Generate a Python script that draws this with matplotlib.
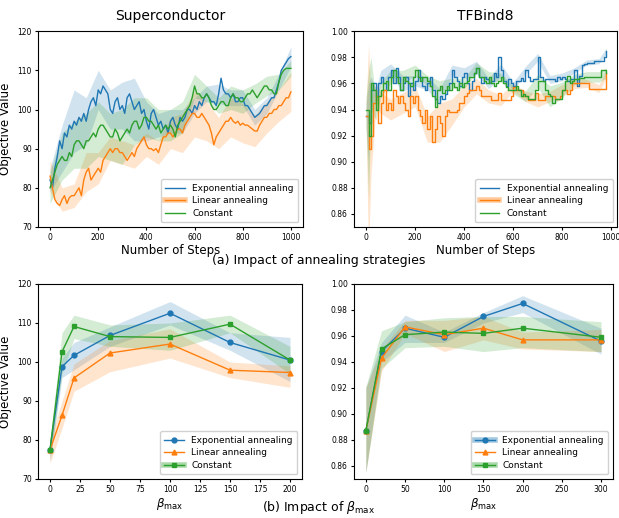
import numpy as np
import matplotlib
matplotlib.use("Agg")
import matplotlib.pyplot as plt
from matplotlib.lines import Line2D

# ---- (a) annealing strategies: mean value every 10 steps ----
sc_exp = [82, 80, 85, 88, 92, 90, 94, 93, 96, 95,
          97, 96, 98, 97, 99, 97, 100, 102, 103, 101,
          105, 104, 106, 105, 104, 100, 99, 102, 103, 100,
          101, 99, 103, 104, 102, 100, 101, 102, 99, 100,
          97, 95, 99, 100, 98, 96, 97, 95, 96, 94,
          97, 98, 96, 95, 98, 97, 98, 100, 100, 99,
          101, 100, 102, 101, 103, 104, 103, 102, 102, 101,
          104, 108, 105, 104, 104, 103, 104, 102, 102, 103,
          103, 101, 101, 100, 99, 98, 98.5, 99, 100, 101,
          101, 102, 103, 103, 105, 107, 110, 111, 112, 113, 113.5]
sc_lin = [83, 80, 77, 76, 75.5, 77, 78, 76, 77.5, 78,
          78, 79, 80, 78, 82, 84, 85, 82, 83, 84,
          85, 84, 87, 88, 89, 90, 89, 90, 90, 89,
          89, 88, 87, 88, 89, 88, 90, 91, 92, 93,
          91, 90, 90, 89.5, 90, 89, 91, 93, 93, 94,
          94, 93, 94, 95, 95, 94, 96, 97, 98, 99,
          99, 98, 98, 99, 98, 97, 96, 94, 91, 93,
          94, 95, 96, 97, 97, 98, 97, 96.5, 97, 96,
          96.5, 96, 96, 95.5, 95, 94.5, 94.5, 96, 97, 98,
          98, 99, 99, 100, 100, 101, 101, 102, 103, 103, 104.5]
sc_con = [80, 82, 84, 86, 87, 88, 87, 87, 89, 88,
          91, 92, 92, 91, 90, 92, 92, 93, 94, 93,
          95, 96, 96, 95, 94, 93, 93, 95, 94, 92,
          93, 94, 95, 94, 96, 97, 97, 95, 96, 98,
          98, 97, 97, 96, 95, 96, 94, 95, 96, 95,
          96, 95, 93, 96, 97, 98, 99, 100, 101, 103,
          106, 104, 104, 103, 103, 104, 103, 101, 100, 100,
          101, 102, 102, 101, 101, 103, 104, 103, 103, 102,
          102, 103, 104, 104, 105, 104, 103, 104, 105, 106,
          106, 105, 105, 104, 104, 107, 109, 110, 110.5, 110.5, 110.5]
# band half-width every 50 steps
sc_band_x = [0, 50, 100, 150, 200, 250, 300, 350, 400, 450, 500,
             550, 600, 650, 700, 750, 800, 850, 900, 950, 1000]
sc_exp_hw = [3, 6, 8, 6, 5, 5, 6, 8, 5, 3, 3, 3, 2, 2, 2.5, 2, 2, 2, 2, 2, 2.5]
sc_lin_hw = [4, 3, 3, 5, 4, 3, 3, 3, 3, 3, 4, 5, 6, 5, 4, 5, 5, 4, 4, 4, 5]
sc_con_hw = [4, 6, 6, 7, 7, 6, 7, 6, 5, 4, 4, 4, 3, 2, 2, 3, 3, 2.5, 2.5, 2, 2]

tf_exp = [0.935, 0.93, 0.955, 0.96, 0.95, 0.96, 0.965, 0.96, 0.955, 0.965,
          0.97, 0.96, 0.972, 0.965, 0.955, 0.96, 0.965, 0.95, 0.96, 0.955,
          0.962, 0.97, 0.965, 0.958, 0.955, 0.96, 0.965, 0.955, 0.948, 0.945,
          0.95, 0.948, 0.952, 0.955, 0.96, 0.97, 0.965, 0.962, 0.958, 0.965,
          0.968, 0.96, 0.955, 0.962, 0.968, 0.972, 0.965, 0.96, 0.965, 0.963,
          0.96, 0.962, 0.968, 0.965, 0.98, 0.97, 0.962, 0.958, 0.963, 0.96,
          0.958, 0.962, 0.962, 0.964, 0.962, 0.97, 0.965, 0.962, 0.963, 0.963,
          0.98, 0.965, 0.962, 0.963, 0.963, 0.963, 0.963, 0.962, 0.965, 0.963,
          0.965, 0.963, 0.962, 0.963, 0.963, 0.97, 0.958, 0.966, 0.974, 0.975,
          0.976, 0.976, 0.976, 0.977, 0.977, 0.977, 0.977, 0.98, 0.985]
tf_lin = [0.935, 0.91, 0.92, 0.945, 0.95, 0.93, 0.945, 0.955, 0.94, 0.945,
          0.94, 0.955, 0.95, 0.945, 0.95, 0.945, 0.94, 0.935, 0.95, 0.945,
          0.95, 0.94, 0.935, 0.93, 0.94, 0.925, 0.935, 0.915, 0.925, 0.935,
          0.93, 0.92, 0.935, 0.94, 0.938, 0.938, 0.938, 0.94, 0.945, 0.945,
          0.95, 0.953, 0.955, 0.955, 0.955, 0.958, 0.955, 0.95, 0.95, 0.95,
          0.95, 0.947, 0.947, 0.947, 0.953, 0.947, 0.947, 0.947, 0.947, 0.95,
          0.957, 0.955, 0.955, 0.955, 0.95, 0.95, 0.947, 0.947, 0.947, 0.953,
          0.947, 0.947, 0.947, 0.95, 0.95, 0.95, 0.95, 0.948, 0.948, 0.95,
          0.955, 0.955, 0.952, 0.955, 0.96, 0.96, 0.96, 0.96, 0.96, 0.96,
          0.96, 0.956, 0.956, 0.956, 0.956, 0.956, 0.956, 0.956, 0.968]
tf_con = [0.94, 0.92, 0.96, 0.955, 0.94, 0.95, 0.955, 0.96, 0.962, 0.955,
          0.965, 0.97, 0.965, 0.96, 0.955, 0.965, 0.962, 0.96, 0.958, 0.965,
          0.97, 0.965, 0.962, 0.965, 0.965, 0.962, 0.958, 0.95, 0.942, 0.955,
          0.958, 0.953, 0.955, 0.958, 0.955, 0.96, 0.957, 0.955, 0.96, 0.957,
          0.96, 0.962, 0.965, 0.965, 0.968, 0.972, 0.965, 0.965, 0.962, 0.96,
          0.965, 0.96, 0.958, 0.96, 0.962, 0.965, 0.96, 0.957, 0.955, 0.955,
          0.955, 0.958, 0.955, 0.95, 0.952, 0.95, 0.948, 0.948, 0.948, 0.955,
          0.962, 0.962, 0.962, 0.955, 0.952, 0.95, 0.945, 0.948, 0.948, 0.948,
          0.955, 0.962, 0.966, 0.96, 0.962, 0.963, 0.963, 0.964, 0.964, 0.965,
          0.965, 0.965, 0.965, 0.965, 0.965, 0.965, 0.97, 0.97, 0.968]
tf_band_x = [0, 10, 20, 40, 60, 100, 150, 200, 250, 300, 350, 400,
             450, 500, 550, 600, 650, 700, 750, 800, 850, 900, 950, 980]
tf_exp_hw = [0.01, 0.03, 0.01, 0.006, 0.005, 0.005, 0.006, 0.004, 0.005, 0.006, 0.004, 0.004,
             0.005, 0.004, 0.005, 0.003, 0.003, 0.003, 0.003, 0.003, 0.002, 0.002, 0.002, 0.002]
tf_lin_hw = [0.01, 0.08, 0.03, 0.01, 0.008, 0.008, 0.008, 0.008, 0.01, 0.015, 0.01, 0.008,
             0.006, 0.005, 0.004, 0.003, 0.004, 0.005, 0.004, 0.004, 0.004, 0.003, 0.003, 0.003]
tf_con_hw = [0.01, 0.05, 0.02, 0.008, 0.006, 0.005, 0.005, 0.004, 0.004, 0.004, 0.004, 0.004,
             0.004, 0.004, 0.003, 0.003, 0.004, 0.005, 0.008, 0.006, 0.004, 0.004, 0.004, 0.004]

# ---- (b) beta_max ----
sc_beta = [0, 10, 20, 50, 100, 150, 200]
sc_b_exp = [77.5, 98.8, 101.7, 106.8, 112.5, 105.0, 100.5]
sc_b_exp_lo = [74.5, 96, 98, 104, 109.5, 103, 95]
sc_b_exp_hi = [80.5, 101, 105, 109, 115.5, 107.5, 106.3]
sc_b_lin = [77.5, 86.3, 95.9, 102.3, 104.6, 97.9, 97.3]
sc_b_lin_lo = [74, 83, 92.5, 97.5, 101, 96, 93.5]
sc_b_lin_hi = [80, 90, 99.5, 105.5, 108.5, 100, 99]
sc_b_con = [77.5, 102.6, 109.1, 106.5, 106.3, 109.7, 100.5]
sc_b_con_lo = [75, 97, 106, 104, 103, 107.5, 97]
sc_b_con_hi = [80, 107.5, 112, 109.5, 110, 112, 104]

tf_beta = [0, 20, 50, 100, 150, 200, 300]
tf_b_exp = [0.887, 0.948, 0.966, 0.959, 0.975, 0.985, 0.956]
tf_b_exp_lo = [0.855, 0.940, 0.955, 0.955, 0.970, 0.978, 0.946]
tf_b_exp_hi = [0.920, 0.955, 0.976, 0.963, 0.978, 0.991, 0.966]
tf_b_lin = [0.887, 0.943, 0.967, 0.961, 0.966, 0.957, 0.957]
tf_b_lin_lo = [0.855, 0.933, 0.962, 0.948, 0.957, 0.950, 0.948]
tf_b_lin_hi = [0.920, 0.950, 0.972, 0.972, 0.975, 0.963, 0.965]
tf_b_con = [0.887, 0.950, 0.961, 0.963, 0.962, 0.966, 0.959]
tf_b_con_lo = [0.855, 0.935, 0.951, 0.952, 0.948, 0.951, 0.948]
tf_b_con_hi = [0.921, 0.964, 0.971, 0.974, 0.975, 0.975, 0.971]

labels = ["Exponential annealing", "Linear annealing", "Constant"]
colors = ["#1f77b4", "#ff7f0e", "#2ca02c"]
markers = ["o", "^", "s"]

plt.rcParams["font.family"] = "DejaVu Sans"
fig = plt.figure(figsize=(6.19, 5.18), dpi=100)
ax1 = fig.add_axes([0.0614, 0.5618, 0.428, 0.378])
ax2 = fig.add_axes([0.572, 0.5618, 0.425, 0.378])
ax3 = fig.add_axes([0.0614, 0.0753, 0.4265, 0.3765])
ax4 = fig.add_axes([0.572, 0.0753, 0.418, 0.3765])


def curve_panel(ax, means, band_x, hws, step, ds):
    for m, hw, c in zip(means, hws, colors):
        m = np.array(m)
        x = np.arange(len(m)) * step
        bx = np.array(band_x)
        ctr = m[bx // step]
        ax.fill_between(bx, ctr - np.array(hw), ctr + np.array(hw), color=c, alpha=0.2, lw=0)
        ax.plot(x, m, color=c, lw=1, drawstyle=ds)


curve_panel(ax1, [sc_exp, sc_lin, sc_con], sc_band_x, [sc_exp_hw, sc_lin_hw, sc_con_hw], 10, "default")
curve_panel(ax2, [tf_exp, tf_lin, tf_con], tf_band_x, [tf_exp_hw, tf_lin_hw, tf_con_hw], 10, "steps-post")

ax1.set_xlim(-50, 1050)
ax1.set_ylim(70, 120)
ax1.set_xticks([0, 200, 400, 600, 800, 1000])
ax2.set_xlim(-49, 1024)
ax2.set_ylim(0.85, 1.0)
ax2.set_xticks([0, 200, 400, 600, 800, 1000])
ax2.set_yticks(np.arange(0.86, 1.001, 0.02))
ax1.set_title("Superconductor", fontsize=10, pad=8)
ax2.set_title("TFBind8", fontsize=10, pad=8)


def beta_panel(ax, x, series):
    for (m, lo, hi), c, mk in zip(series, colors, markers):
        ax.fill_between(x, lo, hi, color=c, alpha=0.2, lw=0)
        ax.plot(x, m, color=c, lw=1, marker=mk, ms=3.5)


beta_panel(ax3, sc_beta, [(sc_b_exp, sc_b_exp_lo, sc_b_exp_hi),
                          (sc_b_lin, sc_b_lin_lo, sc_b_lin_hi),
                          (sc_b_con, sc_b_con_lo, sc_b_con_hi)])
beta_panel(ax4, tf_beta, [(tf_b_exp, tf_b_exp_lo, tf_b_exp_hi),
                          (tf_b_lin, tf_b_lin_lo, tf_b_lin_hi),
                          (tf_b_con, tf_b_con_lo, tf_b_con_hi)])
ax3.set_ylim(70, 120)
ax3.set_xticks(np.arange(0, 201, 25))
ax4.set_ylim(0.85, 1.0)
ax4.set_xticks(np.arange(0, 301, 50))
ax4.set_yticks(np.arange(0.86, 1.001, 0.02))

for ax in (ax1, ax2, ax3, ax4):
    ax.tick_params(labelsize=5.5, length=2.5, pad=2)
    ax.yaxis.set_major_formatter(matplotlib.ticker.FuncFormatter(
        lambda v, p: ("%.2f" % v) if v < 2 else ("%d" % v)))

ax1.set_xlabel("Number of Steps", fontsize=8.5, labelpad=1)
ax2.set_xlabel("Number of Steps", fontsize=8.5, labelpad=1)
ax1.set_ylabel("Objective Value", fontsize=8.5, labelpad=4)
ax3.set_ylabel("Objective Value", fontsize=8.5, labelpad=4)
ax3.set_xlabel(r"$\beta_{\max}$", fontsize=8.5, labelpad=1)
ax4.set_xlabel(r"$\beta_{\max}$", fontsize=8.5, labelpad=1)


def handles(thick, with_marker):
    hs = []
    for i, c in enumerate(colors):
        mk = markers[i] if with_marker else None
        ln = Line2D([], [], color=c, lw=1, marker=mk, ms=3.5)
        if i in thick:
            hs.append((Line2D([], [], color=c, lw=4, alpha=0.4), ln))
        else:
            hs.append(ln)
    return hs


leg_kw = dict(loc="lower right", fontsize=6.5, framealpha=0.9, handlelength=2.2,
              borderpad=0.5, labelspacing=0.4, handletextpad=0.8)
ax1.legend(handles(thick=[1], with_marker=False), labels, **leg_kw)
ax2.legend(handles(thick=[1], with_marker=False), labels, **leg_kw)
ax3.legend(handles(thick=[2], with_marker=True), labels, **leg_kw)
ax4.legend(handles(thick=[0, 2], with_marker=True), labels, **leg_kw)

fig.text(0.515, 0.497, "(a) Impact of annealing strategies", ha="center", va="center", fontsize=9)
fig.text(0.515, 0.02, r"(b) Impact of $\beta_{\max}$", ha="center", va="center", fontsize=9)

fig.savefig("out.png", dpi=100)
